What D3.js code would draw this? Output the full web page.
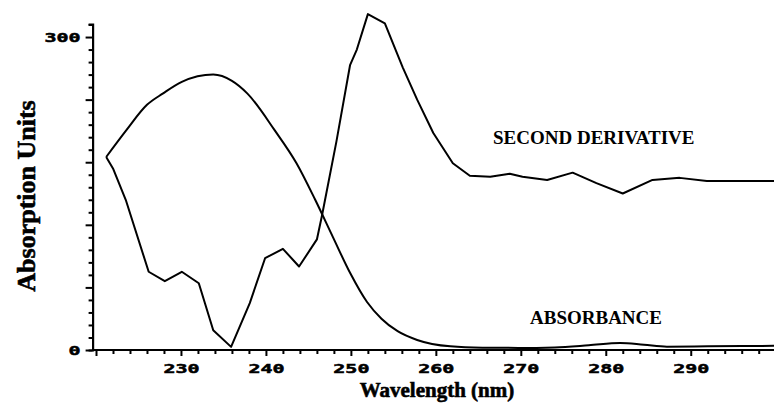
<!DOCTYPE html>
<html>
<head>
<meta charset="utf-8">
<script src="https://cdn.jsdelivr.net/npm/d3@7"></script>
<style>
	body { margin: 0; background: #fff; }
	.tick text { font-family: "DejaVu Sans Mono", monospace; font-weight: bold; font-size: 12.5px; fill: #000; stroke: #000; stroke-width: 0.5px; }
	.title { font-family: "Liberation Serif", "Times New Roman", serif; font-weight: bold; fill: #000; }
</style>
</head>
<body>
<div id="plot"></div>
<script>
// wavelength (nm) / absorption units
var absWave = [221.2, 223.6, 226.0, 227.9, 230.1, 233.8, 236.0, 237.8, 241.0, 243.6, 245.8, 247.9, 249.9, 251.9, 253.6, 255.5, 257.8, 261.7, 265.5, 269.7, 274.0, 278.0, 281.7, 284.5, 287.2, 292.0, 299.8];
var absValue = [185, 211, 235, 246, 257, 264, 258, 246, 211, 179, 144, 108, 74, 46, 30, 18, 9.6, 3.5, 2.2, 2, 2.5, 4.5, 6.7, 5, 3.2, 3.5, 4];

var derWave = [221.2, 222.0, 223.5, 226.2, 228.1, 230.1, 232.1, 233.8, 235.9, 238.1, 239.9, 242.0, 243.9, 246.0, 246.6, 248.3, 249.9, 250.7, 252.0, 254.0, 256.1, 257.8, 259.7, 262.0, 264.0, 266.4, 268.7, 270.2, 273.1, 276.1, 278.9, 282.0, 285.5, 288.7, 291.9, 299.8];
var derValue = [185, 174, 144, 75, 66, 75, 64, 19, 3, 45, 88, 97, 80, 106, 129, 200, 273, 288, 322, 313, 271, 240, 208, 179, 167, 166, 169, 166, 163, 170, 160, 150, 163, 165, 162, 162];

var xTickLabels = [230, 240, 250, 260, 270, 280, 290];
var yTickLabels = [0, 300];
var seriesLabels = ["SECOND DERIVATIVE", "ABSORBANCE"];

var width = 774, height = 408;
var svg = d3.select("#plot").append("svg")
	.attr("width", width)
	.attr("height", height);

var x = d3.scaleLinear().domain([219.6, 299.8]).range([92.6, 774]);
var y = d3.scaleLinear().domain([0, 312.5]).range([350, 24]);

var sx = 1.6; // squat wide digits of the plotter font

// x axis, minor tick every 2 nm
var xAxis = d3.axisBottom(x)
	.tickValues(d3.range(220, 300, 2))
	.tickSizeOuter(0)
	.tickSize(4)
	.tickFormat(function(d) { return xTickLabels.indexOf(d) != -1 ? d : ""; });

var gx = svg.append("g")
	.attr("transform", "translate(0," + y(0) + ")")
	.call(xAxis);
gx.select(".domain").attr("stroke-width", 2.2).attr("d", "M" + x(219.6) + ",0H" + width);
gx.selectAll(".tick line")
	.attr("stroke-width", 2)
	.attr("y2", function(d) { return d % 10 == 0 ? 6 : 4; });
gx.selectAll(".tick text")
	.attr("y", 14)
	.attr("transform", "scale(" + sx + ",1)");

// y axis, minor tick every 12 units
var yAxis = d3.axisLeft(y)
	.tickValues(d3.range(0, 313, 12))
	.tickSizeOuter(0)
	.tickSize(4)
	.tickFormat(function(d) { return yTickLabels.indexOf(d) != -1 ? d : ""; });

var gy = svg.append("g")
	.attr("transform", "translate(" + x(219.6) + ",0)")
	.call(yAxis);
gy.select(".domain").attr("stroke-width", 2.2);
gy.selectAll(".tick line")
	.attr("stroke-width", 2)
	.attr("x2", function(d) { return d % 60 == 0 ? -7 : -4; });
gy.selectAll(".tick text")
	.attr("x", -12 / sx)
	.attr("transform", "scale(" + sx + ",1)");

// curves
var absLine = d3.line()
	.x(function(d, i) { return x(absWave[i]); })
	.y(function(d) { return y(d); })
	.curve(d3.curveMonotoneX);

var derLine = d3.line()
	.x(function(d, i) { return x(derWave[i]); })
	.y(function(d) { return y(d); });

svg.append("path")
	.attr("d", absLine(absValue))
	.attr("fill", "none")
	.attr("stroke", "#000")
	.attr("stroke-width", 2);

svg.append("path")
	.attr("d", derLine(derValue))
	.attr("fill", "none")
	.attr("stroke", "#000")
	.attr("stroke-width", 2)
	.attr("stroke-linejoin", "round");

// series labels
svg.append("text")
	.attr("class", "title")
	.attr("x", 493).attr("y", 144)
	.style("font-size", "19px")
	.text(seriesLabels[0]);

svg.append("text")
	.attr("class", "title")
	.attr("x", 530).attr("y", 324)
	.style("font-size", "19px")
	.text(seriesLabels[1]);

// axis titles
svg.append("text")
	.attr("class", "title")
	.attr("transform", "translate(35,196) rotate(-90)")
	.attr("text-anchor", "middle")
	.style("font-size", "26px")
	.attr("stroke", "#000").attr("stroke-width", 0.6)
	.text("Absorption Units");

svg.append("text")
	.attr("class", "title")
	.attr("x", 437).attr("y", 397)
	.attr("text-anchor", "middle")
	.style("font-size", "21px")
	.attr("stroke", "#000").attr("stroke-width", 0.6)
	.text("Wavelength (nm)");
</script>
</body>
</html>
